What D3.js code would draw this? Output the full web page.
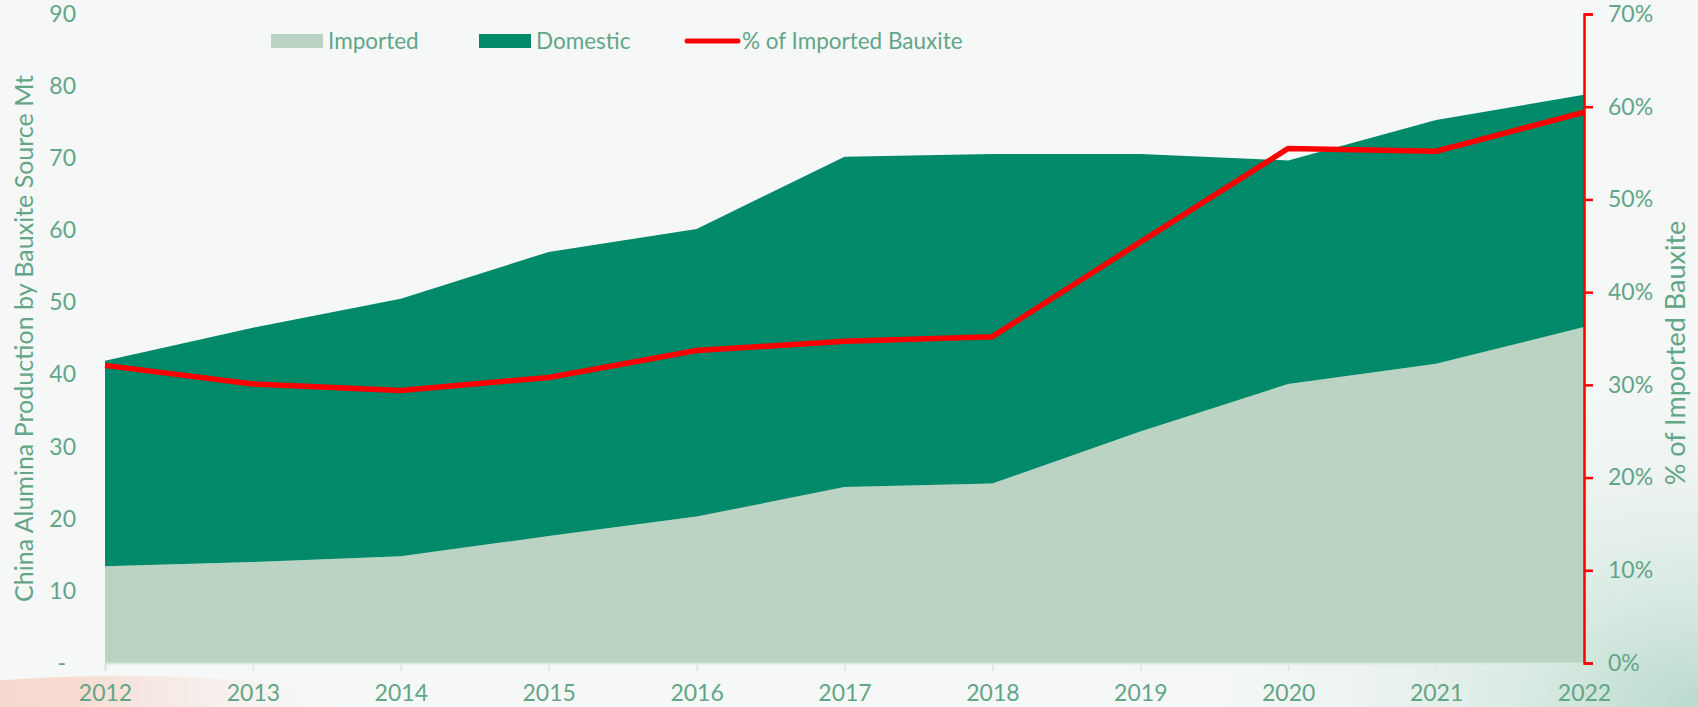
<!DOCTYPE html>
<html>
<head>
<meta charset="utf-8">
<script src="https://cdn.jsdelivr.net/npm/d3@7"></script>
<style>
  html, body { margin: 0; padding: 0; background: #f6f8f7; }
  svg { display: block; font-family: Lato, "Open Sans", sans-serif; }
</style>
</head>
<body>
<svg id="chart" width="1698" height="707"></svg>
<script>
var years = [2012, 2013, 2014, 2015, 2016, 2017, 2018, 2019, 2020, 2021, 2022];
var imported = [13.4, 14.0, 14.8, 17.6, 20.3, 24.4, 24.9, 32.1, 38.7, 41.5, 46.6];
var domestic = [28.5, 32.5, 35.7, 39.4, 39.9, 45.8, 45.7, 38.5, 31.0, 33.8, 32.2];
var pctImported = [32.1, 30.1, 29.4, 30.8, 33.7, 34.7, 35.2, 45.4, 55.5, 55.2, 59.4];
var leftTicks = [0, 10, 20, 30, 40, 50, 60, 70, 80, 90];
var rightTicks = [0, 10, 20, 30, 40, 50, 60, 70];

var svg = d3.select("#chart");
var width = 1698, height = 707;
var margin = {left: 105, right: 114, top: 14, bottom: 44};
var x0 = margin.left, x1 = width - margin.right;
var y0 = height - margin.bottom, y1 = margin.top;

var textColor = "#63a587";
var colImported = "#bad3c2";
var colDomestic = "#008a69";
var colRed = "#ff0000";

// background decoration
var defs = svg.append("defs");
var pink = defs.append("linearGradient").attr("id", "pinkGlow")
    .attr("x1", "0%").attr("x2", "100%").attr("y1", "0%").attr("y2", "0%");
pink.append("stop").attr("offset", "0%").attr("stop-color", "#f6cabd").attr("stop-opacity", 1);
pink.append("stop").attr("offset", "45%").attr("stop-color", "#f7d8ce").attr("stop-opacity", 0.9);
pink.append("stop").attr("offset", "80%").attr("stop-color", "#f6f8f7").attr("stop-opacity", 0);
var green = defs.append("radialGradient").attr("id", "greenGlow")
    .attr("cx", "100%").attr("cy", "100%").attr("r", "100%");
green.append("stop").attr("offset", "0%").attr("stop-color", "#a9d3c2").attr("stop-opacity", 0.8);
green.append("stop").attr("offset", "40%").attr("stop-color", "#d6e8e0").attr("stop-opacity", 0.6);
green.append("stop").attr("offset", "100%").attr("stop-color", "#f6f8f7").attr("stop-opacity", 0);

svg.append("rect").attr("width", width).attr("height", height).attr("fill", "#f6f8f7");
svg.append("ellipse").attr("cx", 120).attr("cy", 790).attr("rx", 440).attr("ry", 114)
    .attr("fill", "url(#pinkGlow)");
svg.append("rect").attr("x", 1100).attr("y", 300).attr("width", 598).attr("height", 407)
    .attr("fill", "url(#greenGlow)");

var x = d3.scaleLinear().domain([years[0], years[years.length - 1]]).range([x0, x1]);
var y = d3.scaleLinear().domain([0, 90]).range([y0, y1]);
var yPct = d3.scaleLinear().domain([0, 70]).range([y0, y1]);

var rows = years.map(function(yr, i) {
    return {year: yr, imported: imported[i], domestic: domestic[i]};
});
var series = d3.stack().keys(["imported", "domestic"])(rows);

var area = d3.area()
    .x(function(d) { return x(d.data.year); })
    .y0(function(d) { return y(d[0]); })
    .y1(function(d) { return y(d[1]); });

svg.selectAll(".layer")
    .data(series)
    .enter().append("path")
    .attr("class", "layer")
    .attr("fill", function(d) { return d.key == "imported" ? colImported : colDomestic; })
    .attr("d", area);

function styleTicks(g) {
    g.attr("font-family", null).attr("font-size", null);
    g.selectAll(".tick text").attr("fill", textColor).style("font-size", "23px");
}

// x axis
var xAxis = svg.append("g").attr("transform", "translate(0," + y0 + ")")
    .call(d3.axisBottom(x).tickValues(years).tickFormat(d3.format("d")).tickSize(8).tickPadding(14));
xAxis.select(".domain").attr("stroke", "#d9e7e0").attr("stroke-width", 2);
xAxis.selectAll(".tick line").attr("stroke", "#d9e7e0").attr("stroke-width", 1.5);
styleTicks(xAxis);

// left axis
var yAxis = svg.append("g").attr("transform", "translate(" + (x0 - 29) + ",0)")
    .call(d3.axisLeft(y).tickValues(leftTicks).tickSize(0).tickPadding(0)
        .tickFormat(function(d) { return d == 0 ? "-" : d; }));
yAxis.select(".domain").remove();
styleTicks(yAxis);
yAxis.selectAll(".tick text").attr("dx", function(d) { return d == 0 ? -10 : 0; });

// right axis
var rAxis = svg.append("g").attr("transform", "translate(" + x1 + ",0)")
    .call(d3.axisRight(yPct).tickValues(rightTicks).tickSize(9).tickPadding(15)
        .tickFormat(function(d) { return d + "%"; }));
rAxis.select(".domain").attr("stroke", colRed).attr("stroke-width", 2.5);
rAxis.selectAll(".tick line").attr("stroke", colRed).attr("stroke-width", 2.5);
styleTicks(rAxis);

// percentage line
var line = d3.line()
    .x(function(d, i) { return x(years[i]); })
    .y(function(d) { return yPct(d); });
svg.append("path")
    .datum(pctImported)
    .attr("fill", "none")
    .attr("stroke", colRed)
    .attr("stroke-width", 5.5)
    .attr("stroke-linejoin", "round")
    .attr("d", line);

// axis titles
svg.append("text")
    .attr("transform", "translate(24," + ((y0 + y1) / 2) + ") rotate(-90)")
    .attr("text-anchor", "middle")
    .attr("dy", "0.35em")
    .attr("fill", textColor)
    .style("font-size", "25px")
    .text("China Alumina Production by Bauxite Source  Mt");

svg.append("text")
    .attr("transform", "translate(1676,353) rotate(-90)")
    .attr("text-anchor", "middle")
    .attr("dy", "0.35em")
    .attr("fill", textColor)
    .style("font-size", "27px")
    .text("% of Imported Bauxite");

// legend
var legend = svg.append("g").attr("transform", "translate(0,41)");
var legendItems = [
    {name: "Imported", type: "box", color: colImported, x: 271},
    {name: "Domestic", type: "box", color: colDomestic, x: 479},
    {name: "% of Imported Bauxite", type: "line", color: colRed, x: 685}
];
legendItems.forEach(function(it) {
    if (it.type == "box") {
        legend.append("rect").attr("x", it.x).attr("y", -7).attr("width", 52).attr("height", 14)
            .attr("fill", it.color);
    } else {
        legend.append("line").attr("x1", it.x + 2).attr("x2", it.x + 53).attr("y1", 0).attr("y2", 0)
            .attr("stroke", it.color).attr("stroke-width", 5).attr("stroke-linecap", "round");
    }
    legend.append("text").attr("x", it.x + 57).attr("y", 0).attr("dy", "0.35em")
        .attr("fill", textColor).style("font-size", "22.5px").text(it.name);
});
</script>
</body>
</html>
